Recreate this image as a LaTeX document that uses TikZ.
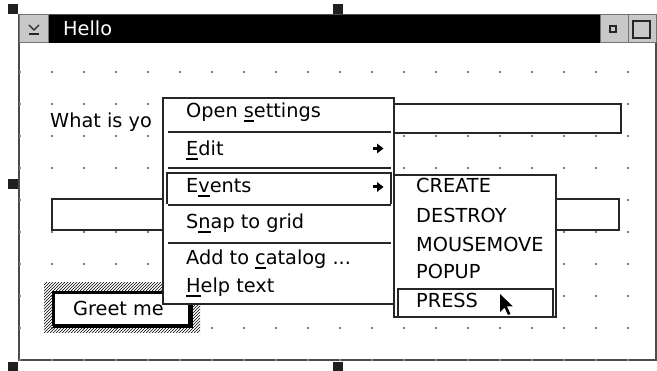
\documentclass[tikz,border=0pt]{standalone}
\usepackage{fontspec}
\setmainfont{DejaVu Sans}
\usetikzlibrary{patterns}
\newcommand\mnem[1]{\leavevmode\vtop{\hbox{#1}\kern2.2pt\hrule height 1.4pt}}
\definecolor{btngray}{HTML}{C8C8C8}
\definecolor{dotgray}{HTML}{808080}
\begin{document}
\begin{tikzpicture}[x=1pt,y=-1pt,
  txt/.style={anchor=base west,inner sep=0pt,font=\fontsize{19.3}{22}\selectfont},
  sepline/.style={line width=1.5pt,draw=black!85},
  handle/.style={fill=black!88},
  graybtn/.style={fill=btngray,draw=black!55,line width=1pt},
  widget/.style={draw=black!85,line width=1.3pt,fill=white},
  menuarrow/.style={fill=black},
]
\useasboundingbox (0,0) rectangle (657,371);
% selection handles
\fill[handle] (8,4) rectangle (18,14);
\fill[handle] (333,4) rectangle (343,14);
\fill[handle] (8,179) rectangle (18,189);
\fill[handle] (8,362) rectangle (18,372);
\fill[handle] (333,362) rectangle (343,372);
% window
\fill[white] (19,15) rectangle (656,360);
\draw[draw=black!70,line width=1.3pt] (19,15) rectangle (656,360);
% grid dots
\foreach \i in {0,...,19}{
  \foreach \j in {0,...,9}{
    \fill[dotgray] ({20+32*\i-0.7},{72+32*\j-0.7}) rectangle ++(1.4,1.4);
  }
}
% title bar
\fill[black] (48,15) rectangle (600,43);
\draw[graybtn] (19,15) rectangle (48,43);
\draw[graybtn] (600,15) rectangle (628,43);
\draw[graybtn] (628,15) rectangle (656,43);
\draw[black!85,line width=1.3pt] (29,25) -- (34,30) -- (39,25);
\draw[black!85,line width=1.3pt] (29,34) -- (39,34);
\draw[black!85,line width=1.5pt] (610,26) rectangle (616,32);
\draw[black!85,line width=1.8pt] (633,21) rectangle (650,38);
\node[txt,text=white] (title) at (63,36) {Hello};
% form widgets
\draw[widget] (230,104) rectangle (621,133);
\node[txt] (question) at (50,128) {What is yo};
\draw[widget] (52,199) rectangle (619,230);
% selected push button
\fill[pattern=north east lines] (44,283) rectangle (200,333);
\draw[black,line width=2.5pt,fill=white] (53.5,292.5) rectangle (189.5,325);
\draw[black,line width=2.2pt] (191.5,293) -- (191.5,327) -- (53,327);
\node[txt] (greet) at (73,316) {Greet me};
% popup menu
\draw[widget] (163,98) rectangle (394,304);
\node[txt] (open) at (186,118) {Open \mnem{s}ettings};
\draw[sepline] (168,132) -- (391,132);
\node[txt] (edit) at (186,156) {\mnem{E}dit};
\fill[menuarrow] (372.5,147) rectangle (378.5,150);
\fill[menuarrow] (377,143.5) -- (383.5,148.5) -- (377,153.5) -- cycle;
\draw[sepline] (168,168) -- (391,168);
\draw[draw=black!85,line width=1.3pt] (167,204) -- (167,173) -- (391,173) -- (391,204);
\node[txt] (events) at (186,193) {E\mnem{v}ents};
\fill[menuarrow] (372.5,185.5) rectangle (378.5,188.5);
\fill[menuarrow] (377,182) -- (383.5,187) -- (377,192) -- cycle;
\draw[sepline] (168,205) -- (391,205);
\node[txt] (snap) at (186,229) {S\mnem{n}ap to grid};
\draw[sepline] (168,243) -- (391,243);
\node[txt] (catalog) at (186,265) {Add to \mnem{c}atalog ...};
\node[txt] (help) at (186,293) {\mnem{H}elp text};
% submenu
\draw[widget] (394,175) rectangle (556,317);
\node[txt] (create) at (416,193) {CREATE};
\node[txt] (destroy) at (416,223) {DESTROY};
\node[txt] (mousemove) at (416,252) {MOUSEMOVE};
\node[txt] (popup) at (416,279) {POPUP};
\draw[draw=black!85,line width=1.3pt] (398,317) -- (398,289) -- (553,289) -- (553,317);
\node[txt] (press) at (416,308) {PRESS};
% mouse pointer
\fill[black] (500,294) -- (500,312) -- (504.5,307.5) -- (508,315) -- (510.5,314) -- (507,306.5) -- (513,306.5) -- cycle;
\end{tikzpicture}
\end{document}
